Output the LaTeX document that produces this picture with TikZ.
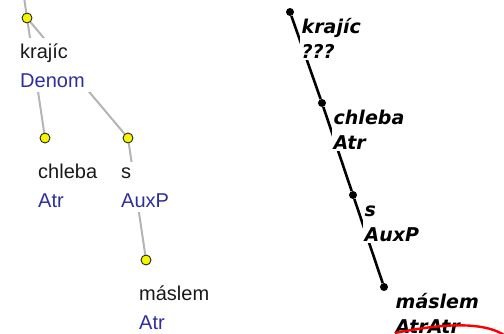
\documentclass[tikz,border=0pt]{standalone}
\usepackage{fontspec}
\setmainfont{Liberation Sans}
\newfontfamily\handfont{DejaVu Sans}
\usetikzlibrary{positioning,calc,backgrounds}
\definecolor{afunblue}{HTML}{2E2EA0}
\definecolor{edgegrey}{HTML}{B4B4B4}
\definecolor{knotyellow}{HTML}{F5F500}
\tikzset{
  knot/.style     = {circle,draw=black!85,fill=knotyellow,line width=0.9pt,
                     minimum size=10pt,inner sep=0pt},
  treeedge/.style = {draw=edgegrey,line width=2pt},
  wordlbl/.style  = {fill=white,inner sep=5pt,align=left,text=black!90,
                     font=\fontsize{20}{29}\selectfont},
  dot/.style      = {circle,fill=black,minimum size=8pt,inner sep=0pt},
  handline/.style = {draw=black,line width=2.6pt},
  handlbl/.style  = {fill=white,inner sep=1.5pt,align=left,
                     font=\handfont\bfseries\itshape\fontsize{19}{25}\selectfont},
  strike/.style   = {draw=red,line width=2.4pt}
}
\newcommand{\DrawTreeNode}[4]{%
  % yellow circle of the tree node
  \node[knot] (#1) at #2 {};
  % word form and afun below it (base = last line)
  \node[wordlbl,anchor=base west] (#1-lbl) at ($(#1.center)+(-12,69)$)
    {#3\\{\color{afunblue}#4}};
}
\newcommand{\DrawHandNode}[4]{%
  % black dot on the hand drawn line
  \node[dot] (#1) at #2 {};
  % word form and afun next to it
  \node[handlbl,anchor=base west] (#1-lbl) at ($(#1.center)+(10,46)$)
    {#3\\#4};
}

\begin{document}
\begin{tikzpicture}[x=1pt,y=-1pt]
    \useasboundingbox (0,0) rectangle (504,333);
    \clip (0,0) rectangle (504,333);

    % left tree
    \coordinate (up) at (24,-3);
    \DrawTreeNode{kr}{(27,18)}{krajíc}{Denom}
    \DrawTreeNode{ch}{(45,138)}{chleba}{Atr}
    \DrawTreeNode{s}{(128,138)}{s}{AuxP}
    \DrawTreeNode{ma}{(146,260)}{máslem}{Atr}

    \begin{scope}[on background layer]
      \draw[treeedge] (up) -- (kr);
      \draw[treeedge] (kr) -- (ch);
      \draw[treeedge] (kr) -- (s);
      \draw[treeedge] (s) -- (ma);
    \end{scope}

    % right, hand drawn version
    \DrawHandNode{hkr}{(290,12)}{krajíc}{???}
    \DrawHandNode{hch}{(322,103)}{chleba}{Atr}
    \DrawHandNode{hs}{(353,195)}{s}{AuxP}
    \DrawHandNode{hma}{(384,287)}{máslem}{AtrAtr}

    \begin{scope}[on background layer]
      \draw[handline] (hkr) -- (hch) -- (hs) -- (hma);
    \end{scope}

    % red correction stroke
    \draw[strike] (395,333) .. controls (430,326) and (485,318) .. (508,338);
  \end{tikzpicture}
\end{document}
